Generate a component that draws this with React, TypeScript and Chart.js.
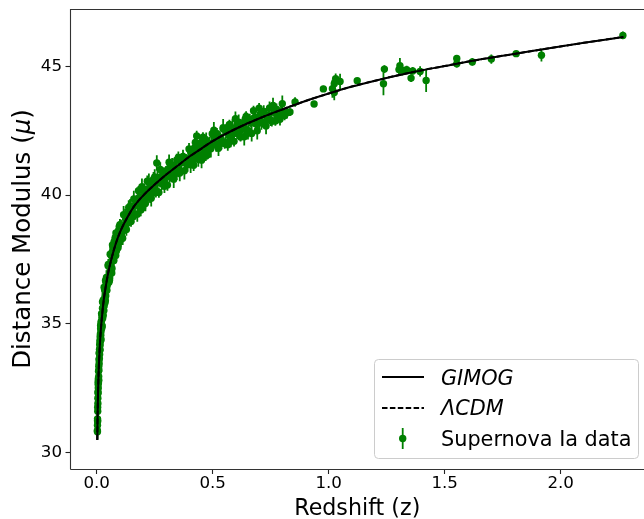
import { useEffect, useRef } from "react";
import { Chart, registerables } from "chart.js";

Chart.register(...registerables);

// ---- model curves ----
const modelZ = [
  0.0025, 0.004, 0.006, 0.008, 0.01, 0.015, 0.02, 0.03, 0.04, 0.05,
  0.065, 0.08, 0.1, 0.13, 0.16, 0.2, 0.25, 0.3, 0.35, 0.4,
  0.45, 0.5, 0.6, 0.7, 0.8, 0.9, 1.0, 1.1, 1.2, 1.35,
  1.5, 1.65, 1.8, 1.95, 2.1, 2.27,
];
const gimogMu = [
  30.48, 31.5, 32.4, 33.0, 33.5, 34.4, 35.0, 35.9, 36.5, 37.0,
  37.57, 38.05, 38.55, 39.1, 39.55, 39.98, 40.41, 40.8, 41.15, 41.5,
  41.8, 42.1, 42.58, 42.98, 43.33, 43.66, 43.95, 44.22, 44.45, 44.76,
  45.02, 45.27, 45.49, 45.71, 45.92, 46.15,
];
const lcdmMu = [
  30.48, 31.5, 32.4, 33.0, 33.5, 34.4, 35.0, 35.9, 36.5, 37.0,
  37.57, 38.05, 38.55, 39.1, 39.55, 39.98, 40.41, 40.8, 41.15, 41.5,
  41.8, 42.1, 42.58, 42.98, 43.33, 43.66, 43.95, 44.22, 44.45, 44.76,
  45.02, 45.27, 45.49, 45.71, 45.92, 46.15,
];

// ---- supernova data ----
const snZ = [
  0.0030, 0.0032, 0.0034, 0.0035, 0.0038, 0.0042, 0.0045, 0.0050, 0.0052, 0.0055,
  0.0060, 0.0063, 0.0068, 0.0070, 0.0075, 0.0080, 0.0085, 0.0090, 0.0095, 0.0100,
  0.0105, 0.0110, 0.0115, 0.0120, 0.0125, 0.0130, 0.0135, 0.0140, 0.0145, 0.0150,
  0.0155, 0.0160, 0.0165, 0.0170, 0.0175, 0.0180, 0.0185, 0.0190, 0.0195, 0.0200,
  0.021, 0.022, 0.023, 0.024, 0.025, 0.026, 0.027, 0.028, 0.029, 0.030,
  0.031, 0.032, 0.033, 0.034, 0.035, 0.036, 0.037, 0.038, 0.039, 0.040,
  0.042, 0.044, 0.046, 0.048, 0.050, 0.052, 0.054, 0.056, 0.058, 0.060,
  0.062, 0.064, 0.066, 0.068, 0.070, 0.072, 0.074, 0.076, 0.078, 0.080,
  0.083, 0.086, 0.089, 0.092, 0.095, 0.098, 0.065, 0.075, 0.085, 0.090,
  0.100, 0.104, 0.108, 0.112, 0.116, 0.120, 0.124, 0.128, 0.132, 0.136,
  0.140, 0.144, 0.148, 0.152, 0.156, 0.160, 0.165, 0.170, 0.175, 0.180,
  0.185, 0.190, 0.195, 0.200, 0.205, 0.210, 0.215, 0.220, 0.225, 0.230,
  0.235, 0.240, 0.245, 0.250, 0.255, 0.259, 0.262, 0.268, 0.274, 0.280,
  0.286, 0.292, 0.298, 0.118, 0.138, 0.158, 0.178, 0.198, 0.218, 0.238,
  0.305, 0.312, 0.318, 0.325, 0.332, 0.338, 0.345, 0.352, 0.358, 0.365,
  0.372, 0.378, 0.385, 0.392, 0.398, 0.405, 0.412, 0.418, 0.425, 0.431,
  0.438, 0.445, 0.452, 0.458, 0.465, 0.472, 0.478, 0.485, 0.492, 0.498,
  0.505, 0.512, 0.518, 0.525, 0.532, 0.538, 0.545, 0.552, 0.558, 0.565,
  0.572, 0.578, 0.585, 0.592, 0.598, 0.350, 0.420, 0.470, 0.530, 0.580,
  0.605, 0.612, 0.620, 0.628, 0.636, 0.644, 0.652, 0.660, 0.668, 0.676,
  0.684, 0.692, 0.700, 0.710, 0.720, 0.730, 0.740, 0.750, 0.760, 0.770,
  0.780, 0.790, 0.800, 0.810, 0.820, 0.833, 0.855, 0.640, 0.700, 0.760,
  0.937, 0.977, 1.016, 1.024, 1.030, 1.024, 1.049, 1.123, 1.236, 1.240,
  1.303, 1.307, 1.317, 1.336, 1.355, 1.362, 1.394, 1.420, 1.552, 1.552,
  1.619, 1.701, 1.808, 1.917, 2.268,
  0.105, 0.115, 0.125, 0.135, 0.145, 0.155, 0.165, 0.175, 0.185, 0.195,
  0.205, 0.215, 0.225, 0.235, 0.245, 0.255, 0.265, 0.275, 0.285, 0.295,
  0.305, 0.315, 0.325, 0.335, 0.345, 0.355, 0.365, 0.375, 0.385, 0.395,
  0.405, 0.415, 0.425, 0.435, 0.445, 0.455, 0.465, 0.475, 0.485, 0.495,
  0.505, 0.515, 0.525, 0.535, 0.545, 0.555, 0.565, 0.575, 0.585, 0.595,
  0.605, 0.615, 0.625, 0.635, 0.645, 0.655, 0.665, 0.675, 0.685, 0.695,
  0.705, 0.715, 0.725, 0.735, 0.745, 0.755, 0.765, 0.775, 0.785, 0.795,
  0.0040, 0.0065, 0.0090, 0.0115, 0.0140, 0.0170, 0.0190, 0.0225, 0.0255, 0.0285,
  0.0315, 0.0345, 0.0375, 0.041, 0.045, 0.049, 0.053, 0.057, 0.061, 0.067,
  0.071, 0.077, 0.082, 0.087, 0.093, 0.097, 0.055, 0.045, 0.035, 0.025,
];
const snMu = [
  30.85, 30.80, 31.05, 31.30, 31.25, 31.75, 31.60, 32.10, 31.90, 32.35,
  32.30, 32.65, 32.50, 32.85, 32.70, 33.15, 32.95, 33.35, 33.20, 33.60,
  33.45, 33.85, 33.65, 34.00, 33.80, 34.20, 34.00, 34.35, 34.15, 34.50,
  34.30, 34.60, 34.45, 34.80, 34.55, 34.90, 34.70, 35.05, 34.80, 35.10,
  35.39, 34.83, 35.37, 34.91, 35.85, 35.34, 35.83, 35.32, 35.81, 35.65,
  35.51, 36.42, 35.88, 36.34, 35.80, 36.26, 36.07, 36.68, 36.09, 36.60,
  36.80, 36.30, 36.80, 36.65, 37.30, 36.73, 37.25, 36.78, 37.70, 37.18,
  37.11, 37.63, 37.15, 38.06, 37.53, 37.99, 37.46, 37.92, 37.74, 38.35,
  38.53, 38.00, 38.48, 37.95, 38.43, 38.25, 36.97, 38.19, 37.83, 38.40,
  38.85, 38.27, 38.80, 38.32, 39.24, 38.72, 39.19, 38.66, 39.13, 38.94,
  39.05, 39.51, 38.97, 39.43, 39.24, 39.85, 39.25, 39.76, 39.26, 40.17,
  39.92, 39.42, 40.33, 39.78, 40.22, 39.67, 40.11, 39.90, 40.50, 39.89,
  39.88, 40.32, 40.12, 40.71, 40.10, 41.25, 40.60, 40.10, 41.00, 40.44,
  40.89, 40.34, 40.78, 38.63, 39.52, 39.17, 39.85, 39.51, 40.54, 40.11,
  40.39, 41.28, 40.73, 41.18, 40.62, 41.07, 40.87, 41.46, 40.86, 41.36,
  41.50, 40.95, 41.40, 41.19, 41.79, 41.18, 41.67, 41.16, 42.05, 42.30,
  41.38, 41.87, 41.36, 42.25, 41.69, 42.13, 41.57, 42.01, 41.80, 42.39,
  42.52, 41.96, 42.39, 41.82, 42.25, 42.03, 42.62, 42.00, 42.48, 41.96,
  42.75, 42.12, 42.61, 42.09, 42.97, 40.95, 41.82, 41.52, 42.24, 42.23,
  42.40, 42.83, 42.26, 42.69, 42.27, 43.06, 42.44, 42.92, 42.40, 43.28,
  43.02, 42.50, 43.38, 42.82, 43.25, 42.69, 43.12, 42.91, 43.49, 42.88,
  43.06, 42.95, 43.55, 43.10, 43.20, 43.23, 43.62, 42.95, 42.80, 43.40,
  43.54, 44.13, 44.14, 44.33, 44.53, 43.99, 44.42, 44.45, 44.33, 44.90,
  44.88, 45.03, 44.85, 44.88, 44.55, 44.83, 44.81, 44.46, 45.31, 45.11,
  45.18, 45.29, 45.50, 45.44, 46.21,
  38.79, 38.63, 39.06, 39.08, 39.58, 39.18, 39.60, 39.81, 39.67, 39.88,
  40.17, 39.91, 40.25, 40.18, 40.62, 40.15, 40.53, 40.71, 40.53, 40.71,
  40.99, 40.71, 41.03, 40.95, 41.37, 40.89, 41.26, 41.43, 41.25, 41.42,
  41.68, 41.39, 41.70, 41.61, 42.02, 41.53, 41.89, 42.05, 41.86, 42.02,
  42.27, 41.97, 42.27, 42.17, 42.57, 42.06, 42.41, 42.56, 42.36, 42.51,
  42.75, 42.44, 42.73, 42.62, 43.01, 42.50, 42.84, 42.98, 42.77, 42.91,
  43.15, 42.83, 43.12, 43.00, 43.39, 42.87, 43.21, 43.34, 43.13, 43.26,
  31.20, 32.75, 32.80, 33.87, 33.97, 34.94, 34.38, 35.25, 35.20, 35.92,
  35.69, 36.37, 35.90, 36.65, 36.50, 37.25, 36.61, 37.27, 37.07, 37.78,
  37.46, 38.15, 37.65, 38.32, 38.12, 38.77, 36.69, 36.75, 35.85, 35.60,
];
const snErr = [
  0.25, 0.30, 0.22, 0.20, 0.22, 0.18, 0.20, 0.17, 0.22, 0.15,
  0.20, 0.18, 0.16, 0.20, 0.15, 0.18, 0.22, 0.16, 0.14, 0.20,
  0.17, 0.15, 0.18, 0.20, 0.14, 0.17, 0.20, 0.15, 0.18, 0.16,
  0.20, 0.14, 0.17, 0.15, 0.19, 0.16, 0.14, 0.18, 0.15, 0.17,
  0.22, 0.30, 0.18, 0.26, 0.34, 0.20, 0.28, 0.24, 0.32, 0.19,
  0.26, 0.34, 0.20, 0.28, 0.24, 0.32, 0.19, 0.22, 0.30, 0.18,
  0.28, 0.24, 0.32, 0.19, 0.22, 0.30, 0.18, 0.26, 0.34, 0.20,
  0.32, 0.19, 0.22, 0.30, 0.18, 0.26, 0.34, 0.20, 0.28, 0.24,
  0.18, 0.26, 0.34, 0.20, 0.28, 0.24, 0.32, 0.19, 0.22, 0.30,
  0.22, 0.30, 0.18, 0.26, 0.34, 0.20, 0.28, 0.24, 0.32, 0.19,
  0.26, 0.34, 0.20, 0.28, 0.24, 0.32, 0.19, 0.22, 0.30, 0.18,
  0.28, 0.24, 0.32, 0.19, 0.22, 0.30, 0.18, 0.26, 0.34, 0.20,
  0.32, 0.19, 0.22, 0.30, 0.18, 0.30, 0.34, 0.20, 0.28, 0.24,
  0.18, 0.26, 0.34, 0.20, 0.28, 0.24, 0.32, 0.19, 0.22, 0.30,
  0.22, 0.30, 0.18, 0.26, 0.34, 0.20, 0.28, 0.24, 0.32, 0.19,
  0.26, 0.34, 0.20, 0.28, 0.24, 0.32, 0.19, 0.22, 0.30, 0.20,
  0.28, 0.24, 0.32, 0.19, 0.22, 0.30, 0.18, 0.26, 0.34, 0.20,
  0.32, 0.19, 0.22, 0.30, 0.18, 0.26, 0.34, 0.20, 0.28, 0.24,
  0.18, 0.26, 0.34, 0.20, 0.28, 0.24, 0.32, 0.19, 0.22, 0.30,
  0.22, 0.30, 0.18, 0.26, 0.34, 0.20, 0.28, 0.24, 0.32, 0.19,
  0.26, 0.34, 0.20, 0.28, 0.24, 0.32, 0.19, 0.22, 0.30, 0.18,
  0.28, 0.24, 0.32, 0.19, 0.22, 0.15, 0.18, 0.26, 0.34, 0.20,
  0.10, 0.12, 0.35, 0.15, 0.20, 0.30, 0.30, 0.10, 0.45, 0.15,
  0.20, 0.30, 0.20, 0.15, 0.15, 0.15, 0.20, 0.45, 0.10, 0.15,
  0.15, 0.18, 0.10, 0.25, 0.15,
  0.25, 0.20, 0.30, 0.22, 0.18, 0.28, 0.24, 0.20, 0.26, 0.22,
  0.20, 0.30, 0.22, 0.18, 0.28, 0.24, 0.20, 0.26, 0.22, 0.25,
  0.30, 0.22, 0.18, 0.28, 0.24, 0.20, 0.26, 0.22, 0.25, 0.20,
  0.22, 0.18, 0.28, 0.24, 0.20, 0.26, 0.22, 0.25, 0.20, 0.30,
  0.18, 0.28, 0.24, 0.20, 0.26, 0.22, 0.25, 0.20, 0.30, 0.22,
  0.28, 0.24, 0.20, 0.26, 0.22, 0.25, 0.20, 0.30, 0.22, 0.18,
  0.24, 0.20, 0.26, 0.22, 0.25, 0.20, 0.30, 0.22, 0.18, 0.28,
  0.25, 0.20, 0.30, 0.22, 0.28, 0.20, 0.30, 0.24, 0.26, 0.20,
  0.25, 0.20, 0.30, 0.22, 0.28, 0.20, 0.30, 0.24, 0.26, 0.20,
  0.25, 0.20, 0.30, 0.22, 0.28, 0.20, 0.30, 0.24, 0.26, 0.20,
];

// ---- axes / labels ----
const xTicks = [0, 0.5, 1.0, 1.5, 2.0];
const yTicks = [30, 35, 40, 45];
const xRange = [-0.1129, 2.359];
const yRange = [29.351, 47.236];
const xTitle = "Redshift (z)";
const yTitleParts = ["Distance Modulus (", "μ", ")"];
const legendLabels = ["GIMOG", "ΛCDM", "Supernova Ia data"];

// axis calibration: pixel of x = 0 and pixels per unit of z
const X_ZERO_PX = 96.7;
const X_PX_PER_UNIT = 232;

const GREEN = "#008000";
const FONT = '"DejaVu Sans", "Liberation Sans", sans-serif';

const errorBarPlugin = {
  id: "errorBars",
  beforeDatasetsDraw(chart: any) {
    const { ctx, chartArea } = chart;
    const x = chart.scales.x;
    const y = chart.scales.y;
    ctx.save();
    ctx.beginPath();
    ctx.rect(chartArea.left, chartArea.top, chartArea.right - chartArea.left, chartArea.bottom - chartArea.top);
    ctx.clip();
    ctx.strokeStyle = GREEN;
    ctx.lineWidth = 1.8;
    ctx.beginPath();
    snZ.forEach((z, i) => {
      const px = x.getPixelForValue(z);
      ctx.moveTo(px, y.getPixelForValue(snMu[i] - snErr[i]));
      ctx.lineTo(px, y.getPixelForValue(snMu[i] + snErr[i]));
    });
    ctx.stroke();
    ctx.restore();
  },
};

const decorPlugin = {
  id: "decor",
  afterDraw(chart: any) {
    const { ctx, chartArea } = chart;
    const { left, right, top, bottom } = chartArea;
    const edge = Math.max(right, chart.width);
    ctx.save();
    // spines
    ctx.strokeStyle = "#333";
    ctx.lineWidth = 1.1;
    ctx.beginPath();
    ctx.moveTo(left, bottom + 0.5);
    ctx.lineTo(left, top + 0.5);
    ctx.lineTo(edge, top + 0.5);
    ctx.moveTo(left, bottom + 0.5);
    ctx.lineTo(edge, bottom + 0.5);
    ctx.stroke();

    // axis titles
    ctx.fillStyle = "#000";
    ctx.textBaseline = "alphabetic";
    ctx.font = `22.2px ${FONT}`;
    ctx.textAlign = "center";
    ctx.fillText(xTitle, (left + edge) / 2, 515);

    const normal = `24.5px ${FONT}`;
    const italic = `italic 24.5px ${FONT}`;
    const fonts = [normal, italic, normal];
    const widths = yTitleParts.map((t, i) => {
      ctx.font = fonts[i];
      return ctx.measureText(t).width;
    });
    const total = widths.reduce((a, b) => a + b, 0);
    ctx.translate(30, (top + bottom) / 2);
    ctx.rotate(-Math.PI / 2);
    ctx.textAlign = "left";
    let cx = -total / 2;
    yTitleParts.forEach((t, i) => {
      ctx.font = fonts[i];
      ctx.fillText(t, cx, 0);
      cx += widths[i];
    });
    ctx.restore();

    // legend
    ctx.save();
    const bx = 374.5, by = 359.5, bw = 264, bh = 99;
    ctx.beginPath();
    ctx.roundRect(bx, by, bw, bh, 4);
    ctx.fillStyle = "rgba(255,255,255,0.8)";
    ctx.fill();
    ctx.strokeStyle = "#cccccc";
    ctx.lineWidth = 1;
    ctx.stroke();

    const rows = [377, 408, 438.5];
    const baselines = [384.5, 415.3, 446.2];
    ctx.strokeStyle = "#000";
    ctx.lineWidth = 2;
    ctx.beginPath();
    ctx.moveTo(382, rows[0]);
    ctx.lineTo(424, rows[0]);
    ctx.stroke();
    ctx.setLineDash([5.5, 2.4]);
    ctx.beginPath();
    ctx.moveTo(382, rows[1]);
    ctx.lineTo(424, rows[1]);
    ctx.stroke();
    ctx.setLineDash([]);
    ctx.strokeStyle = GREEN;
    ctx.lineWidth = 1.8;
    ctx.beginPath();
    ctx.moveTo(402.7, rows[2] - 10.5);
    ctx.lineTo(402.7, rows[2] + 10.5);
    ctx.stroke();
    ctx.fillStyle = GREEN;
    ctx.beginPath();
    ctx.arc(402.7, rows[2], 3.7, 0, Math.PI * 2);
    ctx.fill();

    ctx.fillStyle = "#000";
    ctx.textAlign = "left";
    ctx.textBaseline = "alphabetic";
    ctx.font = `italic 20.8px ${FONT}`;
    ctx.fillText(legendLabels[0], 441, baselines[0]);
    ctx.fillText(legendLabels[1], 441, baselines[1]);
    ctx.font = `20.8px ${FONT}`;
    ctx.fillText(legendLabels[2], 441, baselines[2]);
    ctx.restore();
  },
};

export default function App() {
  const ref = useRef<HTMLCanvasElement | null>(null);

  useEffect(() => {
    if (!ref.current) return;
    const chart = new Chart(ref.current, {
      type: "scatter",
      data: {
        datasets: [
          {
            label: legendLabels[0],
            data: modelZ.map((z, i) => ({ x: z, y: gimogMu[i] })),
            showLine: true,
            borderColor: "#000",
            borderWidth: 2,
            pointRadius: 0,
            cubicInterpolationMode: "monotone",
            order: 0,
          } as any,
          {
            label: legendLabels[1],
            data: modelZ.map((z, i) => ({ x: z, y: lcdmMu[i] })),
            showLine: true,
            borderColor: "#000",
            borderWidth: 2,
            borderDash: [5.5, 2.4],
            pointRadius: 0,
            cubicInterpolationMode: "monotone",
            order: 1,
          } as any,
          {
            label: legendLabels[2],
            data: snZ.map((z, i) => ({ x: z, y: snMu[i] })),
            pointRadius: 3.7,
            pointBackgroundColor: GREEN,
            pointBorderWidth: 0,
            borderColor: GREEN,
            order: 2,
          } as any,
        ],
      },
      options: {
        responsive: false,
        animation: false,
        devicePixelRatio: 1,
        events: [],
        layout: { padding: { top: 9, right: 0, left: 0, bottom: 0 } },
        plugins: { legend: { display: false }, tooltip: { enabled: false } },
        scales: {
          x: {
            type: "linear",
            min: xRange[0],
            max: xRange[1],
            afterBuildTicks: (s: any) => {
              s.ticks = xTicks.map((v) => ({ value: v }));
            },
            afterFit: (s: any) => {
              s.height = 50;
              s.paddingLeft = 0;
              s.paddingRight = 0;
            },
            grid: { drawOnChartArea: false, drawTicks: true, tickLength: 5, tickWidth: 1.1, tickColor: "#222" },
            border: { display: false },
            ticks: {
              font: { family: FONT, size: 16.7 },
              color: "#000",
              padding: 0,
              maxRotation: 0,
              autoSkip: false,
              callback: (v: any) => Number(v).toFixed(1),
            },
          },
          y: {
            type: "linear",
            min: yRange[0],
            max: yRange[1],
            afterBuildTicks: (s: any) => {
              s.ticks = yTicks.map((v) => ({ value: v }));
            },
            afterFit: (s: any) => {
              s.width = 70.5;
              s.paddingTop = 0;
              s.paddingBottom = 0;
            },
            grid: { drawOnChartArea: false, drawTicks: true, tickLength: 5, tickWidth: 1.1, tickColor: "#222" },
            border: { display: false },
            ticks: {
              font: { family: FONT, size: 16.7 },
              color: "#000",
              padding: 3.5,
              autoSkip: false,
              callback: (v: any) => String(v),
            },
          },
        },
      },
      plugins: [errorBarPlugin, decorPlugin],
    });

    // keep the z-axis calibration regardless of the exact plot width
    const ca = chart.chartArea;
    const xs: any = chart.options.scales!.x;
    xs.min = (ca.left - X_ZERO_PX) / X_PX_PER_UNIT;
    xs.max = (ca.right - X_ZERO_PX) / X_PX_PER_UNIT;
    chart.update("none");

    return () => chart.destroy();
  }, []);

  return (
    <canvas
      ref={ref}
      width={644}
      height={519}
      style={{ position: "fixed", left: 0, top: 0, width: 644, height: 519 }}
    />
  );
}
